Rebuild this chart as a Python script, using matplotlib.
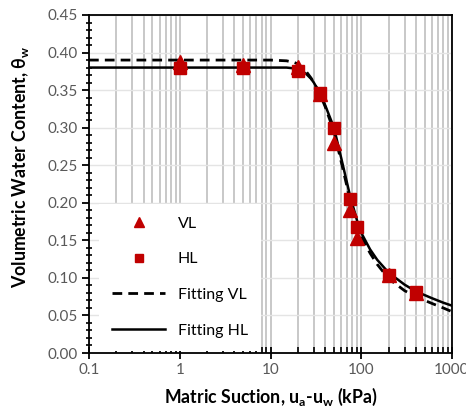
import numpy as np
import matplotlib
matplotlib.use("Agg")
import matplotlib.pyplot as plt
from matplotlib.ticker import LogLocator, MultipleLocator, FixedLocator, FuncFormatter

plt.rcParams['font.family'] = ['Lato', 'DejaVu Sans']

# measured points
suction_vl = [1, 5, 20, 35, 50, 75, 90, 200, 400]
theta_vl = [0.388, 0.384, 0.381, 0.345, 0.280, 0.190, 0.153, 0.104, 0.080]
suction_hl = [1, 5, 20, 35, 50, 75, 90, 200, 400]
theta_hl = [0.380, 0.380, 0.375, 0.346, 0.300, 0.205, 0.168, 0.104, 0.081]

# fitted curves
fit_x_vl = [0.1, 1, 10, 15, 18, 20, 22, 25, 28, 30, 35, 40, 50, 60, 75, 90, 100, 125, 150, 200, 300, 400, 600, 800, 1000]
fit_y_vl = [0.390, 0.390, 0.390, 0.389, 0.387, 0.385, 0.381, 0.374, 0.366, 0.360, 0.345, 0.328, 0.295, 0.255, 0.205, 0.170, 0.155, 0.133, 0.118, 0.099, 0.083, 0.075, 0.066, 0.060, 0.055]
fit_x_hl = [0.1, 1, 10, 15, 18, 20, 22, 25, 28, 30, 35, 40, 50, 60, 75, 90, 100, 125, 150, 200, 300, 400, 600, 800, 1000]
fit_y_hl = [0.380, 0.380, 0.380, 0.380, 0.379, 0.378, 0.376, 0.371, 0.365, 0.360, 0.346, 0.330, 0.300, 0.260, 0.210, 0.176, 0.160, 0.138, 0.124, 0.107, 0.091, 0.082, 0.073, 0.067, 0.063]

red = "#C00000"
tickgray = "#595959"

fig = plt.figure(figsize=(4.66, 4.12), dpi=100)
ax = fig.add_axes([0.191, 0.1432, 0.779, 0.8204])

ax.plot(fit_x_vl, fit_y_vl, color="black", lw=2.0, ls=(0, (3.5, 2.2)), label="Fitting VL", zorder=3)
ax.plot(fit_x_hl, fit_y_hl, color="black", lw=1.8, ls="-", label="Fitting HL", zorder=3)
ax.plot(suction_vl, theta_vl, ls="none", marker="^", ms=9.5, color=red, label="VL", zorder=4)
ax.plot(suction_hl, theta_hl, ls="none", marker="s", ms=8, color=red, label="HL", zorder=5)

ax.set_xscale("log")
ax.set_xlim(0.1, 1000)
ax.set_ylim(0, 0.45)

ax.xaxis.set_major_locator(FixedLocator([0.1, 1, 10, 100, 1000]))
ax.xaxis.set_minor_locator(LogLocator(base=10, subs=np.arange(2, 10), numticks=20))
ax.xaxis.set_major_formatter(FuncFormatter(lambda v, p: "%g" % v))
ax.yaxis.set_major_locator(MultipleLocator(0.05))
ax.yaxis.set_minor_locator(MultipleLocator(0.01))
ax.yaxis.set_major_formatter(FuncFormatter(lambda v, p: "%.2f" % v))

ax.grid(True, which="both", axis="x", color="#c4c4c4", lw=1.3, zorder=0)
ax.grid(True, which="major", axis="y", color="#e4e4e4", lw=1.0, zorder=0)
ax.set_axisbelow(True)

for s in ax.spines.values():
    s.set_linewidth(1.3)
ax.tick_params(axis="both", which="major", labelsize=11, labelcolor=tickgray, width=1.3, length=5, direction="out", pad=3)
ax.tick_params(axis="x", which="major", direction="inout", length=8)
ax.tick_params(axis="x", which="minor", direction="in", length=4, width=1.2)
ax.tick_params(axis="y", which="minor", direction="inout", length=4, width=1.2)

ax.set_xlabel("Matric Suction, u$_\\mathregular{a}$-u$_\\mathregular{w}$ (kPa)", fontsize=12.8, fontweight="bold", va="center")
ax.set_ylabel("Volumetric Water Content, \u03b8$_\\mathregular{w}$", fontsize=12.8, fontweight="bold", va="center")
ax.xaxis.set_label_coords(0.5, -0.13)
ax.yaxis.set_label_coords(-0.19, 0.55)

h, l = ax.get_legend_handles_labels()
order = [2, 3, 0, 1]
leg = ax.legend([h[i] for i in order], [l[i] for i in order], loc="lower left",
                bbox_to_anchor=(0.022, 0.0), frameon=True, fancybox=False,
                fontsize=11.5, labelspacing=1.35, handlelength=3.3, handletextpad=0.8,
                borderpad=0.8, borderaxespad=0.15, edgecolor="white", framealpha=1.0,
                markerscale=0.75)
leg.get_frame().set_linewidth(0)
leg.set_zorder(6)

fig.savefig("out.png", dpi=100)
